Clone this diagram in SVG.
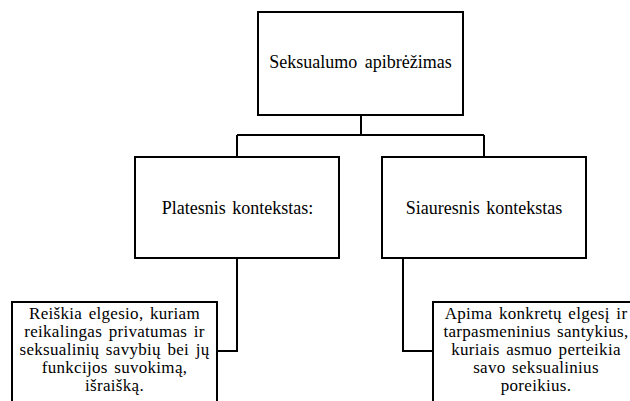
<svg xmlns="http://www.w3.org/2000/svg" width="630" height="401" viewBox="0 0 630 401">
<style>
  .box { fill: #fff; stroke: #000; stroke-width: 2; }
  .conn { fill: none; stroke: #000; stroke-width: 2; }
  .t { font-family: 'Liberation Serif', 'DejaVu Serif', serif; font-size: 18px; fill: #000; text-anchor: middle; }
  .s { font-size: 17px; word-spacing: 2px; letter-spacing: 0.3px; }
</style>
<rect width="630" height="401" fill="#fff"/>
<g id="connectors">
  <path class="conn" d="M361,115 V135"/>
  <path class="conn" d="M237,135 H484"/>
  <path class="conn" d="M237,135 V157"/>
  <path class="conn" d="M484,135 V157"/>
  <path class="conn" d="M237,258 V351 H217"/>
  <path class="conn" d="M403,258 V351 H433"/>
</g>
<g id="root">
  <rect class="box" x="258" y="12" width="205" height="103"/>
  <text class="t" x="360.5" y="68" word-spacing="3">Seksualumo apibrėžimas</text>
</g>
<g id="broad">
  <rect class="box" x="135" y="157" width="204" height="101"/>
  <text class="t" x="237.5" y="214" word-spacing="2">Platesnis kontekstas:</text>
</g>
<g id="narrow">
  <rect class="box" x="382" y="157" width="204" height="101"/>
  <text class="t" x="484" y="214" word-spacing="2">Siauresnis kontekstas</text>
</g>
<g id="broad-desc">
  <rect class="box" x="12" y="302" width="205" height="120"/>
  <text class="t s" x="114.5" y="319">Reiškia elgesio, kuriam</text>
  <text class="t s" x="114.5" y="337">reikalingas privatumas ir</text>
  <text class="t s" x="114.5" y="355">seksualinių savybių bei jų</text>
  <text class="t s" x="114.5" y="373">funkcijos suvokimą,</text>
  <text class="t s" x="114.5" y="391">išraišką.</text>
</g>
<g id="narrow-desc">
  <rect class="box" x="433" y="302" width="205" height="120"/>
  <text class="t s" x="536" y="319">Apima konkretų elgesį ir</text>
  <text class="t s" x="536" y="337">tarpasmeninius santykius,</text>
  <text class="t s" x="536" y="355">kuriais asmuo perteikia</text>
  <text class="t s" x="536" y="373">savo seksualinius</text>
  <text class="t s" x="536" y="391">poreikius.</text>
</g>
</svg>
